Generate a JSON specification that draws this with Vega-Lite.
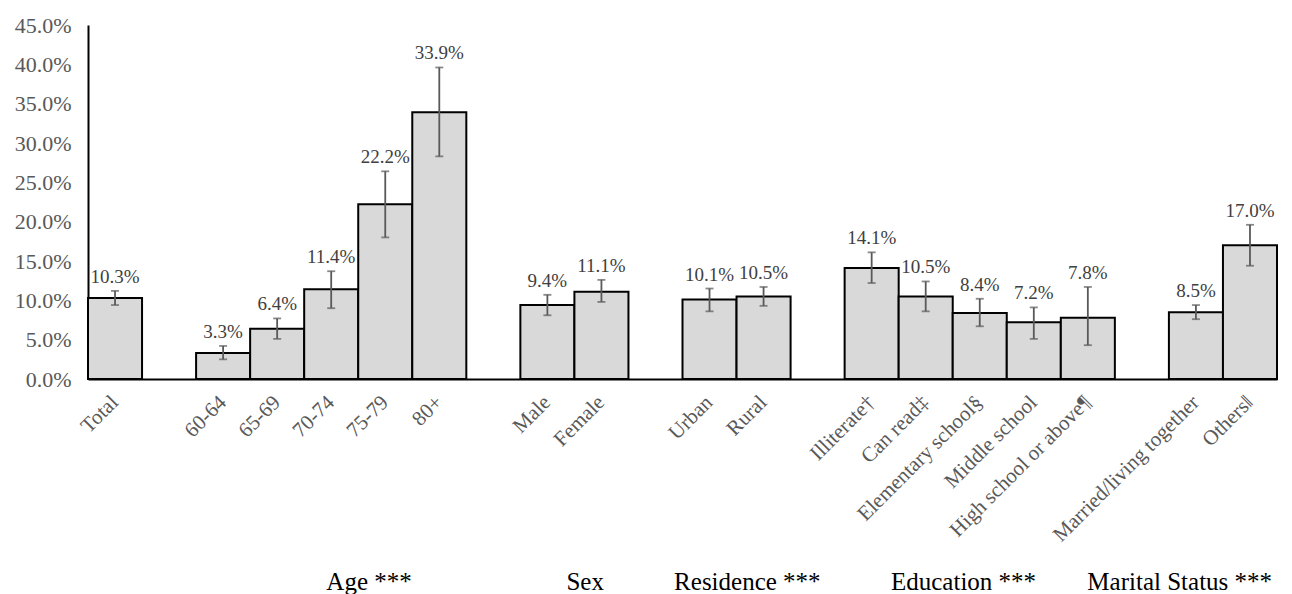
{
  "$schema": "https://vega.github.io/schema/vega-lite/v6.json",
  "autosize": {"type": "none"},
  "width": 1189,
  "height": 354,
  "padding": {"left": 88, "top": 25, "right": 15, "bottom": 215},
  "config": {
    "view": {"stroke": null},
    "font": "Liberation Serif",
    "axis": {"grid": false, "ticks": false, "domainColor": "#000000", "domainWidth": 2, "labelColor": "#595959", "labelFont": "Liberation Serif", "labelOverlap": false},
    "axisX": {"labelAngle": -45, "labelAlign": "right", "labelBaseline": "middle", "labelFontSize": 21, "labelPadding": 20, "labelLimit": 400},
    "axisY": {"labelFontSize": 22, "labelPadding": 17, "labelFlush": false}
  },
  "datasets": {
    "bars": [
      {"cat": "Total", "value": 0.103, "lo": 0.094, "hi": 0.112},
      {"cat": "60-64", "value": 0.033, "lo": 0.025, "hi": 0.042},
      {"cat": "65-69", "value": 0.064, "lo": 0.051, "hi": 0.077},
      {"cat": "70-74", "value": 0.114, "lo": 0.090, "hi": 0.137},
      {"cat": "75-79", "value": 0.222, "lo": 0.180, "hi": 0.264},
      {"cat": "80+", "value": 0.339, "lo": 0.283, "hi": 0.396},
      {"cat": "Male", "value": 0.094, "lo": 0.081, "hi": 0.107},
      {"cat": "Female", "value": 0.111, "lo": 0.098, "hi": 0.126},
      {"cat": "Urban", "value": 0.101, "lo": 0.086, "hi": 0.115},
      {"cat": "Rural", "value": 0.105, "lo": 0.093, "hi": 0.117},
      {"cat": "Illiterate†", "value": 0.141, "lo": 0.122, "hi": 0.161},
      {"cat": "Can read‡", "value": 0.105, "lo": 0.086, "hi": 0.124},
      {"cat": "Elementary school§", "value": 0.084, "lo": 0.067, "hi": 0.102},
      {"cat": "Middle school", "value": 0.072, "lo": 0.051, "hi": 0.091},
      {"cat": "High school or above¶", "value": 0.078, "lo": 0.043, "hi": 0.117},
      {"cat": "Married/living together", "value": 0.085, "lo": 0.076, "hi": 0.094},
      {"cat": "Others‖", "value": 0.170, "lo": 0.144, "hi": 0.196}
    ],
    "groups": [
      {"group": "Age ***", "anchor": "75-79"},
      {"group": "Sex", "anchor": "Female"},
      {"group": "Residence ***", "anchor": "Rural"},
      {"group": "Education ***", "anchor": "Elementary school§"},
      {"group": "Marital Status ***", "anchor": "Married/living together"}
    ]
  },
  "layer": [
    {
      "data": {"name": "bars"},
      "mark": {"type": "bar", "fill": "#d9d9d9", "stroke": "#000000", "strokeWidth": 2},
      "encoding": {
        "x": {
          "field": "cat", "type": "nominal", "sort": null, "title": null,
          "scale": {"domain": ["Total", " ", "60-64", "65-69", "70-74", "75-79", "80+", "  ", "Male", "Female", "   ", "Urban", "Rural", "    ", "Illiterate†", "Can read‡", "Elementary school§", "Middle school", "High school or above¶", "     ", "Married/living together", "Others‖"], "paddingInner": 0, "paddingOuter": 0}
        },
        "y": {
          "field": "value", "type": "quantitative", "title": null,
          "scale": {"domain": [0, 0.45], "nice": false},
          "axis": {"values": [0, 0.05, 0.1, 0.15, 0.2, 0.25, 0.3, 0.35, 0.4, 0.45], "format": ".1%"}
        }
      }
    },
    {
      "data": {"name": "bars"},
      "mark": {"type": "errorbar", "color": "#595959", "thickness": 1.8, "ticks": {"size": 8, "thickness": 1.8}},
      "encoding": {
        "x": {"field": "cat", "type": "nominal", "sort": null, "title": null},
        "y": {"field": "lo", "type": "quantitative", "title": null, "axis": {"values": [0, 0.05, 0.1, 0.15, 0.2, 0.25, 0.3, 0.35, 0.4, 0.45], "format": ".1%"}},
        "y2": {"field": "hi"}
      }
    },
    {
      "data": {"name": "bars"},
      "mark": {"type": "text", "baseline": "bottom", "dy": -4, "fontSize": 19, "color": "#404040", "font": "Liberation Serif"},
      "encoding": {
        "x": {"field": "cat", "type": "nominal", "sort": null, "title": null},
        "y": {"field": "hi", "type": "quantitative", "title": null, "axis": {"values": [0, 0.05, 0.1, 0.15, 0.2, 0.25, 0.3, 0.35, 0.4, 0.45], "format": ".1%"}},
        "text": {"field": "value", "type": "quantitative", "format": ".1%"}
      }
    },
    {
      "data": {"name": "groups"},
      "mark": {"type": "text", "baseline": "alphabetic", "align": "center", "dy": 211, "fontSize": 25, "color": "#000000", "font": "Liberation Serif"},
      "encoding": {
        "x": {"field": "anchor", "type": "nominal", "sort": null, "bandPosition": 0.2, "title": null},
        "y": {"datum": 0, "type": "quantitative", "title": null, "axis": {"values": [0, 0.05, 0.1, 0.15, 0.2, 0.25, 0.3, 0.35, 0.4, 0.45], "format": ".1%"}},
        "text": {"field": "group"}
      }
    }
  ]
}
